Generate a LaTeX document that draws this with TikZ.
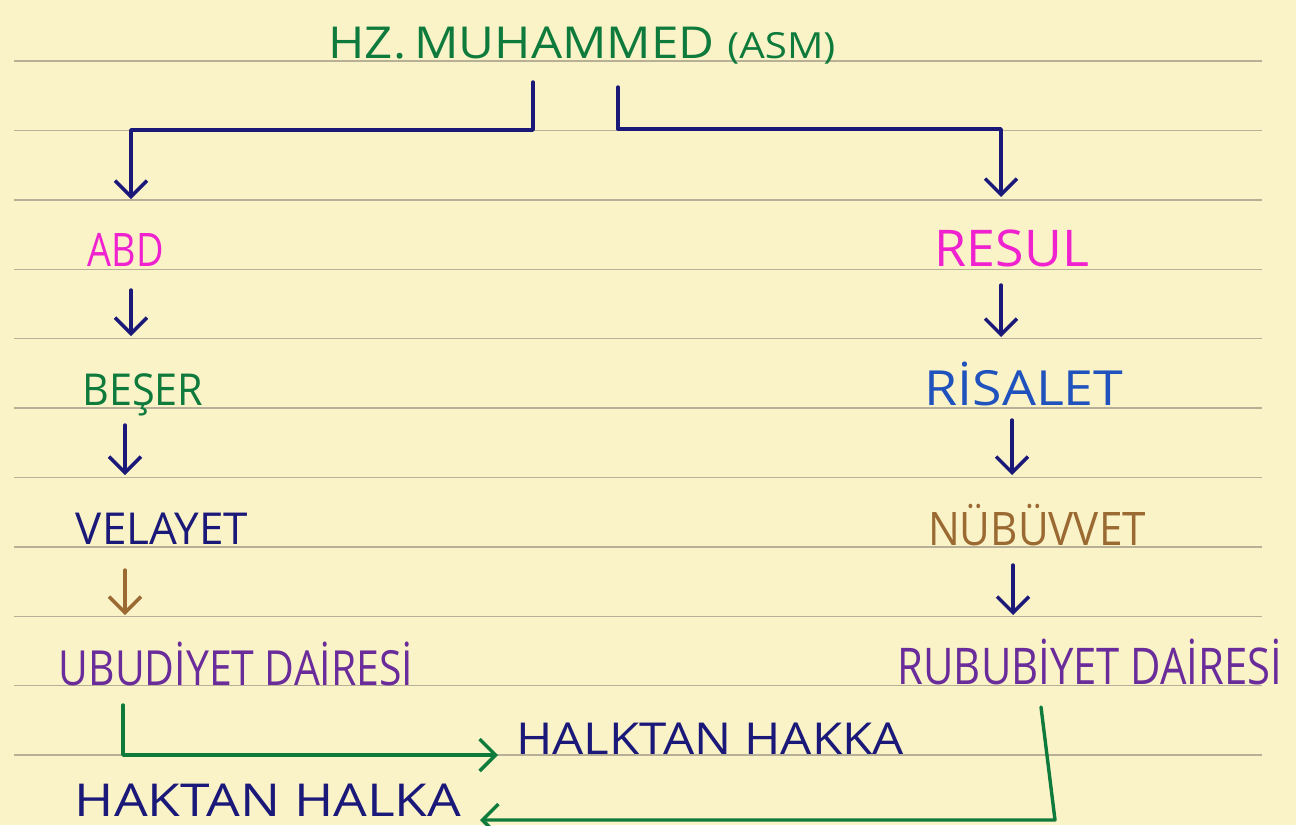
\documentclass[tikz,border=0pt]{standalone}
\usepackage{fontspec}
\setmainfont{Open Sans}
\usetikzlibrary{arrows.meta}
\definecolor{paper}{HTML}{FAF3C8}
\definecolor{rule}{HTML}{B8B096}
\definecolor{navy}{HTML}{1A1878}
\definecolor{pgreen}{HTML}{0E7A3C}
\definecolor{pmag}{HTML}{F022D0}
\definecolor{pblue}{HTML}{2052BE}
\definecolor{pbrown}{HTML}{9B6A32}
\definecolor{ppurple}{HTML}{6A2C9A}
\tikzset{
  lbl/.style={inner sep=0pt, anchor=base, font=\fontsize{44}{48}\selectfont},
  conn/.style={line width=3.4pt, line cap=round, line join=round, -{Straight Barb[length=16pt,width=32pt,line width=3.4pt]}},
  ruleline/.style={rule, line width=1.4pt}
}
\begin{document}
\begin{tikzpicture}[x=1pt,y=-1pt]
\fill[paper] (0,0) rectangle (1296,825);
\useasboundingbox (0,0) rectangle (1296,825);
\foreach \yy in {61,130.4,199.8,269.2,338.6,408,477.4,546.8,616.2,685.6,755}
  \draw[ruleline] (14,\yy) -- (1262,\yy);

% texts
\node[lbl, pgreen] (title) at (582,58) {\scalebox{1.12}[1]{HZ.\,MUHAMMED {\fontsize{36}{40}\selectfont(ASM)}}};
\node[lbl, pmag] (abd) at (126,266) {\scalebox{0.86}[1.05]{ABD}};
\node[lbl, pgreen] (beser) at (143,405) {\scalebox{0.94}[1]{BEŞER}};
\node[lbl, navy] (velayet) at (162,544) {VELAYET};
\node[lbl, ppurple] (ubud) at (236,685) {\scalebox{0.93}[1.1]{UBUDİYET DAİRESİ}};
\node[lbl, pmag] (resul) at (1012,266) {\scalebox{1.18}[1.15]{RESUL}};
\node[lbl, pblue] (risalet) at (1024,405) {\scalebox{1.22}[1.1]{RİSALET}};
\node[lbl, pbrown] (nubuvvet) at (1037,545) {\scalebox{0.96}[1.05]{NÜBÜVVET}};
\node[lbl, ppurple] (rubub) at (1090,684) {\scalebox{0.95}[1.15]{RUBUBİYET DAİRESİ}};
\node[lbl, navy] (halktan) at (710,754) {\scalebox{1.12}[1]{HALKTAN HAKKA}};
\node[lbl, navy] (haktan) at (268,816) {\scalebox{1.21}[1.03]{HAKTAN HALKA}};

% connectors from title
\coordinate (tl) at (533,82);
\coordinate (tr) at (618,87);
\draw[conn, navy] (tl) -- (533,130) -- (131,130) -- (131,199);
\draw[conn, navy] (tr) -- (618,129) -- (1001,129) -- (1001,197);

% left column
\draw[conn, navy] (131,290) -- (131,336);
\draw[conn, navy] (125,425) -- (125,475);
\draw[conn, pbrown] (125,570) -- (125,615);
% right column
\draw[conn, navy] (1001,285) -- (1001,337);
\draw[conn, navy] (1012,420) -- (1012,475);
\draw[conn, navy] (1013,565) -- (1013,615);

% bottom loops
\coordinate (hin) at (498,755);
\coordinate (hout) at (480,820);
\draw[conn, pgreen] (123,705) -- (123,755) -- (hin);
\draw[conn, pgreen] (1041,707) -- (1055,820) -- (hout);
\end{tikzpicture}
\end{document}
